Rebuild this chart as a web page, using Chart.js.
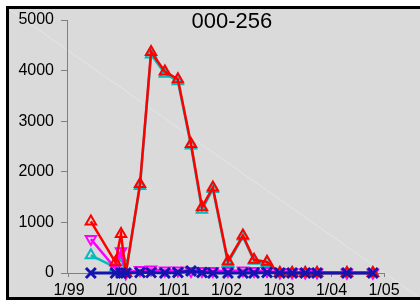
<!DOCTYPE html>
<html>
<head>
<meta charset="utf-8">
<script src="https://cdn.jsdelivr.net/npm/chart.js@4"></script>
<style>
    html, body { margin: 0; padding: 0; background: #fff; }
    #wrap { width: 420px; height: 302px; position: relative; overflow: hidden; }
</style>
</head>
<body>
<div id="wrap"><canvas id="chart" width="420" height="302"></canvas></div>
<script>
// sample dates and values
const sampleDates = [
    '1999-06-01', '1999-11-20', '1999-12-28', '2000-02-01', '2000-05-08',
    '2000-07-24', '2000-10-29', '2001-01-28', '2001-04-28', '2001-07-13',
    '2001-09-28', '2002-01-11', '2002-04-24', '2002-07-10', '2002-10-09',
    '2003-01-07', '2003-04-01', '2003-07-01', '2003-09-22', '2004-04-17',
    '2004-10-15'
];
const redValues = [1020, 210, 770, 0, 1760, 4370, 3980, 3830, 2550, 1300, 1690, 230, 740, 260, 220, 0, 0, 0, 0, 0, 0];
const cyanValues = [350, 110, 300, 0, 1720, 4320, 3940, 3790, 2520, 1250, 1660, 200, 720, 240, 200, 0, 0, 0, 0, 0, 0];
const magentaValues = [670, 90, 430, 0, 60, 70, 50, 50, 40, 40, 40, 40, 50, 40, 40, 10, 10, 10, 10, 5, 5];
const blueValues = [0, 0, 0, 0, 10, 10, 0, 10, 40, 10, 0, 0, 0, 0, 10, 0, 0, 0, 0, 0, 0];
const yearTicks = [1999, 2000, 2001, 2002, 2003, 2004, 2005];
const yTicks = [0, 1000, 2000, 3000, 4000, 5000];
const chartTitle = '000-256';

const FONT = 'Liberation Sans, Arial, Helvetica, sans-serif';

const toYear = (s) => {
    const [y, m, d] = s.split('-').map(Number);
    return y + (m - 1) / 12 + (d - 1) / 365;
};

const points = (values) => values.map((v, i) => ({ x: toYear(sampleDates[i]), y: v }));

const framePlugin = {
    id: 'frame',
    beforeDraw: (chart) => {
        const { ctx, width, height } = chart;
        ctx.save();
        ctx.fillStyle = '#ffffff';
        ctx.fillRect(0, 0, width, height);
        ctx.fillStyle = '#dadada';
        ctx.fillRect(7, 7, width, 292);
        // faint diagonal streak across the panel
        ctx.strokeStyle = 'rgba(255,255,255,0.3)';
        ctx.lineWidth = 1;
        ctx.beginPath();
        ctx.moveTo(9, 9);
        ctx.lineTo(width, 298);
        ctx.stroke();
        ctx.strokeStyle = '#000';
        ctx.lineWidth = 3;
        ctx.strokeRect(7.5, 7.5, width + 10, 291);
        ctx.restore();
    }
};

const titlePlugin = {
    id: 'innerTitle',
    afterDraw: (chart) => {
        const { ctx, chartArea } = chart;
        ctx.save();
        ctx.font = `22px ${FONT}`;
        ctx.fillStyle = '#000';
        ctx.textAlign = 'center';
        ctx.textBaseline = 'middle';
        ctx.fillText(chartTitle, chartArea.left + (chartArea.right - chartArea.left) * 0.52, chartArea.top + 2);
        ctx.restore();
    }
};

const lineSet = (values, color, style, order, extra = {}) => ({
    data: points(values),
    borderColor: color,
    borderWidth: 2.5,
    pointStyle: style,
    pointRadius: 6,
    pointBorderWidth: 2,
    pointBorderColor: color,
    pointBackgroundColor: 'rgba(0,0,0,0)',
    tension: 0,
    clip: false,
    order,
    ...extra
});

new Chart(document.getElementById('chart').getContext('2d'), {
    type: 'line',
    data: {
        datasets: [
            lineSet(blueValues, '#1414b0', 'crossRot', 0, { pointRadius: 7, pointBorderWidth: 3, borderWidth: 3 }),
            lineSet(redValues, '#ff0000', 'triangle', 1),
            lineSet(magentaValues, '#ff00ff', 'triangle', 2, { pointRotation: 180 }),
            lineSet(cyanValues, '#00bcbc', 'triangle', 3)
        ]
    },
    options: {
        responsive: false,
        animation: false,
        layout: { padding: { left: 0, top: 20, right: 36, bottom: 0 } },
        plugins: {
            legend: { display: false },
            tooltip: { enabled: false }
        },
        scales: {
            x: {
                type: 'linear',
                min: 1998.962,
                max: 2005.0,
                afterFit: (scale) => { scale.height = 29; },
                afterBuildTicks: (scale) => { scale.ticks = yearTicks.map(v => ({ value: v })); },
                border: { display: true, color: '#808080', width: 1 },
                grid: { drawOnChartArea: false, color: '#808080', tickLength: 4 },
                ticks: {
                    padding: 4,
                    color: '#000',
                    font: { family: FONT, size: 16 },
                    maxRotation: 0,
                    autoSkip: false,
                    callback: (v) => '1/' + String(v % 100).padStart(2, '0')
                }
            },
            y: {
                min: 0,
                max: 5000,
                afterFit: (scale) => { scale.width = 67; },
                afterBuildTicks: (scale) => { scale.ticks = yTicks.map(v => ({ value: v })); },
                border: { display: true, color: '#808080', width: 1 },
                grid: { drawOnChartArea: false, color: '#808080', tickLength: 6 },
                ticks: {
                    padding: 7,
                    color: '#000',
                    font: { family: FONT, size: 16 },
                    callback: (v) => String(v)
                }
            }
        }
    },
    plugins: [framePlugin, titlePlugin]
});
</script>
</body>
</html>
